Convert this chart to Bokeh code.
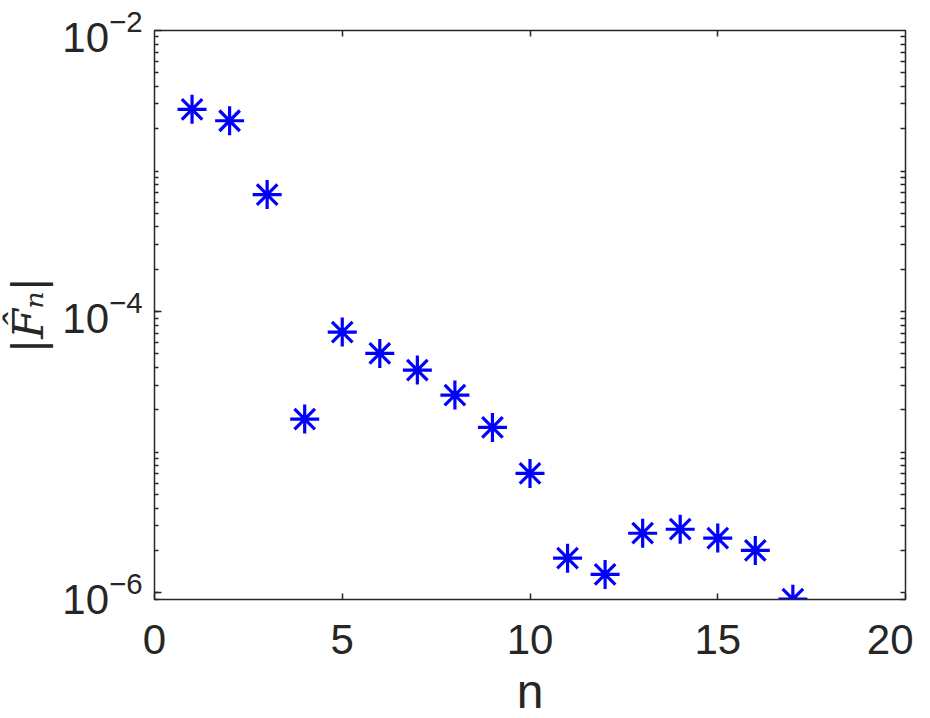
from bokeh.plotting import figure
from bokeh.models import LinearAxis, LogAxis, FixedTicker, Range1d, ColumnDataSource
from bokeh.embed import file_html
from bokeh.resources import INLINE

n_vals = [1, 2, 3, 4, 5, 6, 7, 8, 9, 10, 11, 12, 13, 14, 15, 16, 17]
F_abs = [2.75e-3, 2.28e-3, 6.8e-4, 1.72e-5, 7.15e-5, 5.04e-5, 3.84e-5, 2.55e-5,
         1.50e-5, 7.06e-6, 1.76e-6, 1.35e-6, 2.65e-6, 2.83e-6, 2.45e-6, 2.0e-6, 9.0e-7]

x_ticks = [0, 5, 10, 15, 20]
x_inner = [5, 10, 15]
y_major = [1e-6, 1e-4, 1e-2]
y_minor = [m * 10.0 ** k for k in range(-7, -2) for m in range(1, 10)]

FONT = "Liberation Sans"
AX = "#262626"

p = figure(output_backend="svg", toolbar_location=None,
           y_axis_type="log", x_range=Range1d(0, 20), y_range=Range1d(8.95e-7, 1e-2),
           frame_width=751, frame_height=569,
           min_border_left=146, min_border_top=30, min_border_right=8, min_border_bottom=0)
p.outline_line_color = AX
p.outline_line_width = 1.5
p.grid.visible = False
p.background_fill_color = "white"
p.border_fill_color = "white"

src = ColumnDataSource(dict(n=n_vals, f=F_abs))
p.scatter("n", "f", source=src, marker="asterisk", size=29, line_color="#0000FF",
          line_width=3.2)

# bottom axis
xa = p.xaxis[0]
xa.ticker = FixedTicker(ticks=x_ticks)
xa.axis_label = "n"
xa.axis_label_text_font = FONT
xa.axis_label_text_font_size = "48px"
xa.axis_label_text_font_style = "normal"
xa.axis_label_text_color = AX
xa.axis_label_standoff = 8
xa.major_label_text_font = FONT
xa.major_label_text_font_size = "42px"
xa.major_label_text_color = AX
xa.major_label_standoff = 25
xa.major_tick_in = 6
xa.major_tick_out = 0
xa.minor_tick_line_color = None
xa.axis_line_color = AX
xa.major_tick_line_color = AX
xa.major_tick_line_width = 1.5

# left axis
ya = p.yaxis[0]
ya.ticker = FixedTicker(ticks=y_major, minor_ticks=y_minor)
ya.axis_label = "|F\u0302\u2099|"
ya.axis_label_text_font = "DejaVu Serif"
ya.axis_label_text_font_style = "italic"
ya.axis_label_text_font_size = "43px"
ya.axis_label_text_color = AX
ya.axis_label_standoff = 6
ya.major_label_text_font = FONT
ya.major_label_text_font_size = "42px"
ya.major_label_text_color = AX
ya.major_label_standoff = 12
ya.major_tick_in = 7
ya.major_tick_out = 0
ya.minor_tick_in = 4
ya.minor_tick_out = 0
ya.axis_line_color = AX
ya.major_tick_line_color = AX
ya.minor_tick_line_color = AX
ya.major_tick_line_width = 1.5
ya.minor_tick_line_width = 1.5

# top axis (ticks only, no labels)
ta = LinearAxis(ticker=FixedTicker(ticks=[], minor_ticks=x_inner),
                minor_tick_in=6, minor_tick_out=0, major_tick_line_color=None,
                axis_line_color=AX, minor_tick_line_color=AX, minor_tick_line_width=1.5)
p.add_layout(ta, "above")

# right axis (ticks only, no labels)
ra = LogAxis(ticker=FixedTicker(ticks=[], minor_ticks=y_minor),
             minor_tick_in=5, minor_tick_out=0, major_tick_line_color=None,
             axis_line_color=AX, minor_tick_line_color=AX, minor_tick_line_width=1.5)
p.add_layout(ra, "right")

open("out.html", "w").write(file_html(p, INLINE))
